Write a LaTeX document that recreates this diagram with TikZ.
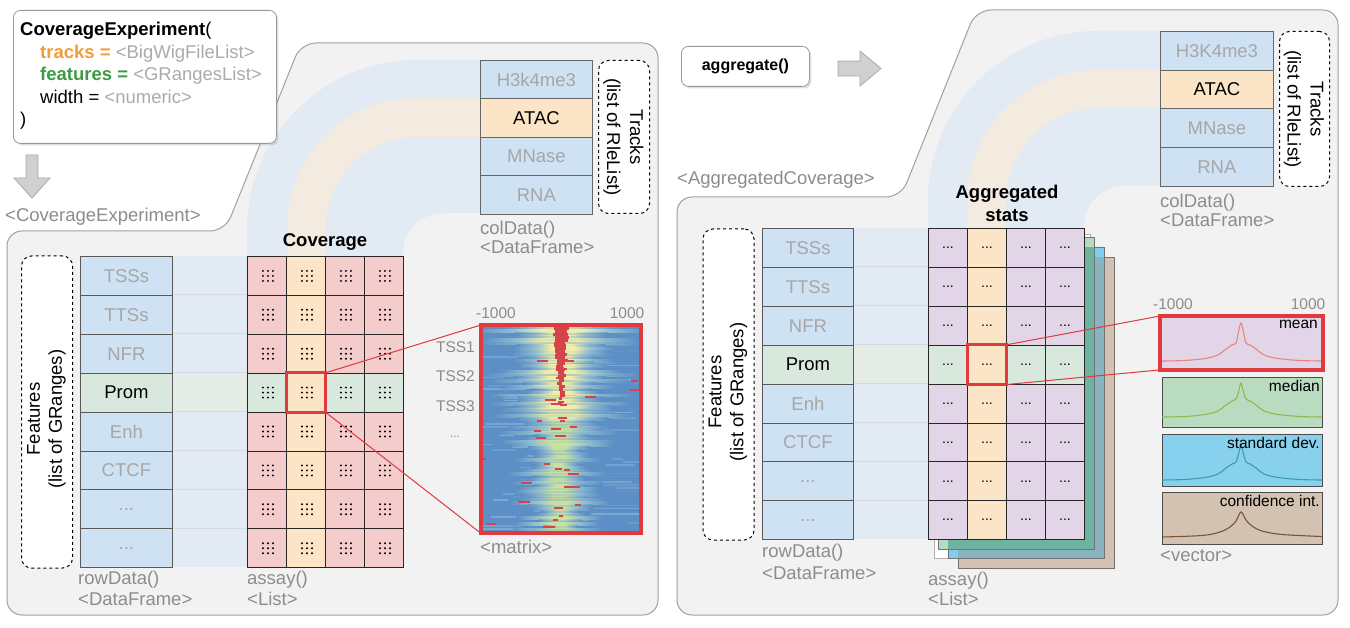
\documentclass[tikz,border=0pt]{standalone}
\usepackage{fontspec}
\setmainfont{Liberation Sans}
\usetikzlibrary{shadows}
\definecolor{panelbg}{HTML}{F2F2F2}
\definecolor{panelln}{HTML}{A0A0A0}
\definecolor{bandblue}{HTML}{E2EAF3}
\definecolor{bandbeige}{HTML}{F3EBE0}
\definecolor{bandgreen}{HTML}{E4ECE5}
\definecolor{bandln}{HTML}{D3DAE3}
\definecolor{cblue}{HTML}{CFE2F3}
\definecolor{cgreen}{HTML}{D9E8DC}
\definecolor{cpink}{HTML}{F4CCCC}
\definecolor{catac}{HTML}{FCE5C6}
\definecolor{cpurple}{HTML}{E1D5E7}
\definecolor{txtgray}{HTML}{A6A6A6}
\definecolor{lblgray}{HTML}{8C8C8C}
\definecolor{codegray}{HTML}{ABABAB}
\definecolor{codeorange}{HTML}{F29D38}
\definecolor{codegreen}{HTML}{3E9A45}
\definecolor{hired}{HTML}{E0393E}
\definecolor{hb}{HTML}{5C8FC6}
\definecolor{hlb}{HTML}{93BFD0}
\definecolor{hy}{HTML}{F2F0A8}
\definecolor{hg}{HTML}{CAE3A2}
\definecolor{hr}{HTML}{D5444A}
\definecolor{hstreak}{HTML}{A5C6E2}
\definecolor{lgreen}{HTML}{B5DCC0}
\definecolor{lteal}{HTML}{6DB3A0}
\definecolor{lblue}{HTML}{80CFEE}
\definecolor{lbluebrown}{HTML}{88B4C0}
\definecolor{lbrown}{HTML}{D3C2B2}
\definecolor{pmeanc}{HTML}{EA857C}
\definecolor{pmedf}{HTML}{B9DCC1}
\definecolor{pmedc}{HTML}{8DB94F}
\definecolor{psdf}{HTML}{87D1EF}
\definecolor{psdc}{HTML}{3E9DA3}
\definecolor{pcif}{HTML}{D3C2B2}
\definecolor{pcic}{HTML}{7A5535}
\definecolor{arrowf}{HTML}{D0D0D0}
\definecolor{arrowl}{HTML}{A8A8A8}
\pgfdeclarehorizontalshading{glowy}{100bp}{color(0bp)=(hb); color(25bp)=(hb); color(36bp)=(hlb); color(44bp)=(hy); color(56bp)=(hy); color(64bp)=(hlb); color(75bp)=(hb); color(100bp)=(hb)}
\pgfdeclarehorizontalshading{glowg}{100bp}{color(0bp)=(hb); color(25bp)=(hb); color(37bp)=(hlb); color(46bp)=(hg); color(54bp)=(hg); color(63bp)=(hlb); color(75bp)=(hb); color(100bp)=(hb)}
\newcommand\fz[1]{\fontsize{#1}{#1}\selectfont}
\newcommand\mydots{...}
\newcommand\profile[5]{% x, y, color, baseline, peak
  \begin{scope}[shift={(#1,#2)}]
  \draw[#3, line width=1.1] plot[smooth, tension=0.55] coordinates {(2,#4) (25,#4-0.5) (45,#4-2.5) (58,#4-6) (66,#4-12) (72,#4-16) (76,#4-18) (78.5,#5+9) (81,#5) (83.5,#5+9) (86,#4-18) (90,#4-16) (96,#4-12) (104,#4-6) (118,#4-2.5) (140,#4-0.5) (162,#4)};
  \end{scope}}
\begin{document}
\begin{tikzpicture}[x=1pt,y=-1pt,
  font=\fz{18.5},
  panel/.style={fill=panelbg, draw=panelln, line width=1},
  codebox/.style={fill=white, draw=gray!80, line width=0.8, rounded corners=7, anchor=north west, inner sep=0,
     drop shadow={opacity=0.25, shadow xshift=2pt, shadow yshift=-2pt}},
  blockarrow/.style={fill=arrowf, draw=arrowl, line width=0.8},
  dbox/.style={draw=black, fill=white, dashed, line width=1, rounded corners=10, anchor=north west, inner sep=0},
  rowcell/.style={draw=black!65, line width=0.8, minimum width=92, minimum height=38.9, anchor=north west, inner sep=0},
  colcell/.style={draw=black!60, line width=0.8, minimum width=112, minimum height=38.4, anchor=north west, inner sep=0},
  acell/.style={draw=black!85, line width=0.9, minimum width=39, minimum height=38.9, anchor=north west, inner sep=0},
  lbl/.style={text=lblgray, anchor=west, inner sep=0},
  small/.style={font=\fz{15.5}},
  boldlbl/.style={font=\bfseries\fz{18.5}, inner sep=0},
  hl/.style={draw=hired, line width=3},
  redline/.style={draw=hired, line width=1},
  pbox/.style={anchor=north west, inner sep=0, draw=black!70, line width=0.9},
  ptxt/.style={anchor=north east, inner sep=0, font=\fz{15.5}}
]
\useasboundingbox (0,0) rectangle (1350,628);

% ---------- panels ----------
\draw[panel] (100,615) [rounded corners=15] -- (7,615) -- (7,231) -- (225,231) -- (301,43) -- (658,43) -- (658,615) -- cycle;
\draw[panel] (800,615) [rounded corners=15] -- (677,615) -- (677,197) -- (901,197) -- (976,10) -- (1338,10) -- (1338,615) -- cycle;

% ---------- bands left ----------
\fill[bandblue] (480,60) -- (417,60) .. controls (323.1,60) and (247,136.1) .. (247,230) -- (247,258) -- (403,258) -- (403,253) .. controls (403,230.9) and (420.9,213) .. (443,213) -- (480,213) -- cycle;
\fill[bandbeige] (480,98) -- (417,98) .. controls (345.2,98) and (287,156.2) .. (287,228) -- (287,258) -- (326,258) -- (326,228) .. controls (326,177.7) and (366.7,137) .. (417,137) -- (480,137) -- cycle;
\fill[bandblue] (172,256) rectangle (247,567.2);
\fill[bandgreen] (172,372.7) rectangle (247,411.6);
\foreach \i in {1,...,7}{\draw[bandln, line width=0.8] (172,256+38.9*\i) -- (247,256+38.9*\i);}

% ---------- bands right ----------
\fill[bandblue] (1160,31) -- (1098,31) .. controls (1004.1,31) and (928,106.9) .. (928,201) -- (928,228) -- (1084,228) -- (1084,226) .. controls (1084,203.9) and (1101.9,186) .. (1124,186) -- (1160,186) -- cycle;
\fill[bandbeige] (1160,70) -- (1098,70) .. controls (1025.7,70) and (967,128.7) .. (967,201) -- (967,228) -- (1006,228) -- (1006,201) .. controls (1006,150.2) and (1047.2,108) .. (1098,108) -- (1160,108) -- cycle;
\fill[bandblue] (853,228) rectangle (928,539.2);
\fill[bandgreen] (853,344.7) rectangle (928,383.6);
\foreach \i in {1,...,7}{\draw[bandln, line width=0.8] (853,228+38.9*\i) -- (928,228+38.9*\i);}

% ---------- code box and arrows ----------
\node[codebox, minimum width=263, minimum height=133] (code) at (13,10) {};
\node[anchor=base west, inner sep=0] (c1) at (20,36) {\textbf{CoverageExperiment}(};
\node[anchor=base west, inner sep=0] (c2) at (40,58.5) {\textcolor{codeorange}{\textbf{tracks =}} \textcolor{codegray}{<BigWigFileList>}};
\node[anchor=base west, inner sep=0] (c3) at (40,81) {\textcolor{codegreen}{\textbf{features =}} \textcolor{codegray}{<GRangesList>}};
\node[anchor=base west, inner sep=0] (c4) at (40,103.5) {width = \textcolor{codegray}{<numeric>}};
\node[anchor=base west, inner sep=0] (c5) at (20,126) {)};
\draw[blockarrow] (26,155) -- (38,155) -- (38,178) -- (50,178) -- (32,198) -- (14,178) -- (26,178) -- cycle;

\node[codebox, minimum width=128, minimum height=40] (agg) at (681,46) {};
\node[font=\bfseries\fz{16}, inner sep=0] (aggt) at (agg.center) {aggregate()};
\draw[blockarrow] (838,61) -- (860,61) -- (860,51) -- (881,68.5) -- (860,86) -- (860,76) -- (838,76) -- cycle;

% ---------- dashed boxes ----------
\node[dbox, minimum width=51, minimum height=312] (featL) at (21,255.5) {};
\node[rotate=90, align=center, font=\fontsize{18.5}{22}\selectfont, inner sep=0] (featLt) at (46.5,419) {Features\\(list of GRanges)};
\node[dbox, minimum width=51, minimum height=153] (trkL) at (598,60) {};
\node[rotate=-90, align=center, font=\fontsize{18.5}{23}\selectfont, inner sep=0] (trkLt) at (623.5,137) {Tracks\\(list of RleList)};
\node[dbox, minimum width=51, minimum height=311] (featR) at (702.5,228.5) {};
\node[rotate=90, align=center, font=\fontsize{18.5}{22}\selectfont, inner sep=0] (featRt) at (728,392) {Features\\(list of GRanges)};
\node[dbox, minimum width=50, minimum height=155] (trkR) at (1279,31) {};
\node[rotate=-90, align=center, font=\fontsize{18.5}{23}\selectfont, inner sep=0] (trkRt) at (1304,109) {Tracks\\(list of RleList)};

% ---------- left rowData ----------
\foreach \lab [count=\i] in {TSSs,TTSs,NFR,Prom,Enh,CTCF,\mydots,\mydots}{
  \pgfmathsetmacro\yy{256+38.9*(\i-1)}
  \ifnum\i=4 \def\cf{cgreen}\def\tc{black}\else\def\cf{cblue}\def\tc{txtgray}\fi
  \node[rowcell, fill=\cf, text=\tc] (lr\i) at (80,\yy) {\lab};
}
% ---------- left colData ----------
\foreach \lab [count=\i] in {H3k4me3,ATAC,MNase,RNA}{
  \pgfmathsetmacro\yy{60+38.4*(\i-1)}
  \ifnum\i=2 \def\cf{catac}\def\tc{black}\else\def\cf{cblue}\def\tc{txtgray}\fi
  \node[colcell, fill=\cf, text=\tc] (lc\i) at (480,\yy) {\lab};
}
% ---------- left assay ----------
\foreach \r in {1,...,8}{
  \foreach \c in {1,...,4}{
    \pgfmathsetmacro\xx{247+39*(\c-1)}
    \pgfmathsetmacro\yy{256+38.9*(\r-1)}
    \ifnum\c=2 \def\cf{catac}\else\ifnum\r=4 \def\cf{cgreen}\else\def\cf{cpink}\fi\fi
    \node[acell, fill=\cf] (la\r\c) at (\xx,\yy) {};
    \foreach \dx in {-5,0,5}{\foreach \dy in {-5,0,5}{\fill[black] ([shift={(\dx+1,\dy)}]la\r\c.center) circle (1.1);}}
  }
}

% ---------- heatmap ----------
\node[anchor=north west, inner sep=0, minimum width=160, minimum height=208] (heat) at (481,325) {};
\begin{scope}
\clip (483,327) rectangle (639,531);
\fill[hb] (483,327) rectangle (639,531);
\pgfmathsetseed{12}
\foreach \i in {0,...,69}{
  \pgfmathsetmacro\yy{327+\i*2.914}
  \pgfmathsetmacro\xa{470+rnd*160}
  \pgfmathsetmacro\xl{10+rnd*50}
  \pgfmathsetmacro\myop{rnd*0.55}
  \fill[hstreak, fill opacity=\myop] (\xa,\yy) rectangle (\xa+\xl,\yy+1.6);
}
\foreach \i in {0,...,69}{
  \pgfmathsetmacro\myt{\i/70}
  \pgfmathsetmacro\yy{327+\i*2.914}
  \pgfmathsetmacro\cx{561-3*\myt+(rnd-0.5)*6}
  \pgfmathsetmacro\gw{(64-32*\myt)*(0.5+0.9*rnd)}
  \pgfmathsetmacro\myop{0.6+0.4*rnd}
  \ifdim\myt pt<0.45pt \def\sh{glowy}\else\def\sh{glowg}\fi
  \shade[shading=\sh, fill opacity=\myop] (\cx-\gw,\yy) rectangle (\cx+\gw,\yy+2.95);
}
\foreach \i in {0,...,24}{
  \pgfmathsetmacro\yy{327+\i*2.914}
  \pgfmathsetmacro\myw{(11*(1-\i/25)+3)*(0.8+0.4*rnd)}
  \pgfmathsetmacro\cx{561+(rnd-0.5)*3}
  \fill[hr] (\cx-\myw/2,\yy) rectangle (\cx+\myw/2,\yy+2.95);
}
\foreach \k in {1,...,38}{
  \pgfmathsetmacro\yy{335+rnd*192}
  \pgfmathsetmacro\mys{(rnd-0.5)*2}
  \pgfmathsetmacro\xx{561+\mys*abs(\mys)*85}
  \pgfmathsetmacro\mylen{4+rnd*8}
  \fill[hr] (\xx-\mylen/2,\yy) rectangle (\xx+\mylen/2,\yy+2);
}
\end{scope}
\draw[draw=hired, line width=4] (heat.north west) rectangle (heat.south east);

% ---------- right rowData ----------
\foreach \lab [count=\i] in {TSSs,TTSs,NFR,Prom,Enh,CTCF,\mydots,\mydots}{
  \pgfmathsetmacro\yy{228+38.9*(\i-1)}
  \ifnum\i=4 \def\cf{cgreen}\def\tc{black}\else\def\cf{cblue}\def\tc{txtgray}\fi
  \node[rowcell, minimum width=91, fill=\cf, text=\tc] (rr\i) at (762,\yy) {\lab};
}
% ---------- right colData ----------
\foreach \lab [count=\i] in {H3K4me3,ATAC,MNase,RNA}{
  \pgfmathsetmacro\yy{31+38.75*(\i-1)}
  \ifnum\i=2 \def\cf{catac}\def\tc{black}\else\def\cf{cblue}\def\tc{txtgray}\fi
  \node[colcell, minimum width=113, minimum height=38.75, fill=\cf, text=\tc] (rc\i) at (1160,\yy) {\lab};
}
% ---------- stacked layers ----------
\draw[black!30, fill=white, line width=0.7] (934,234) rectangle (1090,558);
\draw[black!55, fill=lbrown, line width=0.8] (958,257) rectangle (1114,568);
\fill[lblue] (948,247) rectangle (1104,558);
\fill[lbluebrown] (958,257) rectangle (1104,558);
\draw[black!55, line width=0.8] (948,247) rectangle (1104,558);
\fill[lgreen] (938,237) rectangle (1094,549);
\fill[lteal] (948,247) rectangle (1094,549);
\draw[black!55, line width=0.8] (938,237) rectangle (1094,549);
% ---------- right assay ----------
\foreach \r in {1,...,8}{
  \foreach \c in {1,...,4}{
    \pgfmathsetmacro\xx{928+39*(\c-1)}
    \pgfmathsetmacro\yy{228+38.9*(\r-1)}
    \ifnum\c=2 \def\cf{catac}\else\ifnum\r=4 \def\cf{cgreen}\else\def\cf{cpurple}\fi\fi
    \node[acell, fill=\cf, font=\fz{14}] (ra\r\c) at (\xx,\yy) {...};
  }
}

% ---------- vector plots ----------
\node[pbox, draw=none, fill=cpurple, minimum width=162, minimum height=53] (pmean) at (1160,316) {};
\profile{1160}{316}{pmeanc}{45}{7}
\draw[draw=hired, line width=4] (pmean.north west) rectangle (pmean.south east);
\node[pbox, fill=pmedf, minimum width=160, minimum height=50] (pmed) at (1162,377) {};
\profile{1160}{377}{pmedc}{40}{6}
\node[pbox, fill=psdf, minimum width=160, minimum height=52] (psd) at (1162,434) {};
\profile{1160}{434}{psdc}{46}{11}
\node[pbox, fill=pcif, minimum width=160, minimum height=52] (pci) at (1162,492) {};
\begin{scope}[shift={(1162,492)}]
\draw[pcic, line width=1.1] plot[smooth, tension=0.55] coordinates {(0,45) (40,43.5) (58,40) (68,35) (74,29) (79,20) (84,28) (90,34) (100,39) (120,42.5) (160,44.5)};
\end{scope}
\draw[black!70, line width=0.9] (pci.north west) rectangle (pci.south east);
\node[ptxt] (tmean) at (1318,320) {mean};
\node[ptxt] (tmed) at (1320,380) {median};
\node[ptxt] (tsd) at (1320,437) {standard dev.};
\node[ptxt] (tci) at (1320,495) {confidence int.};

% ---------- highlights and connectors ----------
\draw[hl] (la42.north west) rectangle (la42.south east);
\draw[redline] (la42.north east) -- (heat.north west);
\draw[redline] (la42.south east) -- (heat.south west);
\draw[hl] (ra42.north west) rectangle (ra42.south east);
\draw[redline] (ra42.north east) -- (pmean.north west);
\draw[redline] (ra42.south east) -- (pmean.south west);

% ---------- labels ----------
\node[lbl] (lce) at (5,217) {<CoverageExperiment>};
\node[boldlbl] (lcov) at (325,242) {Coverage};
\node[lbl] (lrd) at (78,580) {rowData()};
\node[lbl] (lrd2) at (78,599) {<DataFrame>};
\node[lbl] (las) at (247,580) {assay()};
\node[lbl] (las2) at (247,599) {<List>};
\node[lbl] (lcd) at (480,230) {colData()};
\node[lbl] (lcd2) at (480,247) {<DataFrame>};
\node[lbl] (lmat) at (480,547) {<matrix>};
\node[lbl, small, anchor=center] (hm1) at (496,313) {-1000};
\node[lbl, small, anchor=center] (hm2) at (627,313) {1000};
\node[lbl, small, anchor=east] (tss1) at (475,347) {TSS1};
\node[lbl, small, anchor=east] (tss2) at (475,376) {TSS2};
\node[lbl, small, anchor=east] (tss3) at (475,406) {TSS3};
\node[lbl, font=\fz{12}, anchor=center] (tssd) at (455,437) {...};

\node[lbl] (lac) at (677,180) {<AggregatedCoverage>};
\node[font=\bfseries\fontsize{18.5}{23}\selectfont, align=center, inner sep=0] (lagg) at (1007,203.5) {Aggregated\\stats};
\node[lbl] (rcd) at (1160,203) {colData()};
\node[lbl] (rcd2) at (1160,220) {<DataFrame>};
\node[lbl] (rrd) at (762,553) {rowData()};
\node[lbl] (rrd2) at (762,573) {<DataFrame>};
\node[lbl] (ras) at (928,581) {assay()};
\node[lbl] (ras2) at (928,599) {<List>};
\node[lbl, small, anchor=center] (vm1) at (1173,304) {-1000};
\node[lbl, small, anchor=center] (vm2) at (1308,304) {1000};
\node[lbl] (lvec) at (1160,556) {<vector>};
\end{tikzpicture}
\end{document}
